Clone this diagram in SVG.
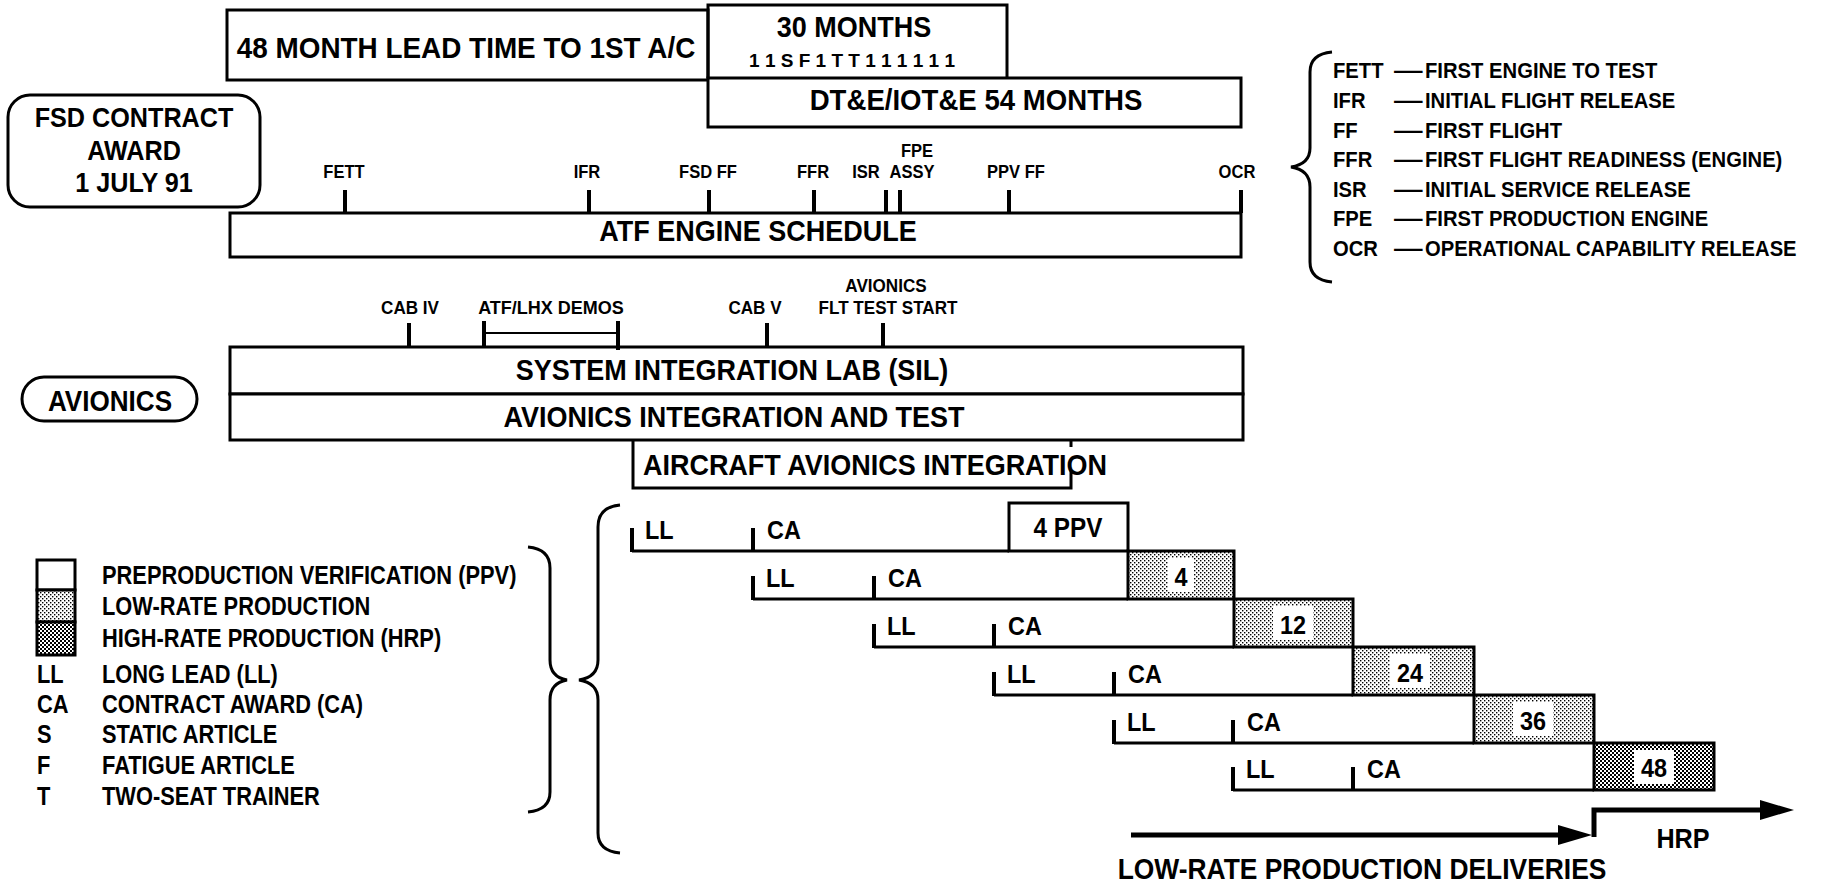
<svg xmlns="http://www.w3.org/2000/svg" width="1838" height="882" viewBox="0 0 1838 882">
<style>
.ln{fill:none;stroke:#000;stroke-width:3}
.bx{fill:#fff;stroke:#000;stroke-width:3}
.tk{fill:none;stroke:#000;stroke-width:4}
.t{font-family:"Liberation Sans",Arial,sans-serif;font-weight:bold;fill:#000}
.m{text-anchor:middle}
.L{font-size:30px}
.M{font-size:22px}
.G{font-size:26px}
.S{font-size:18px}
.R{font-size:26px}
</style>
<defs>
<pattern id="lt" width="4" height="4" patternUnits="userSpaceOnUse"><rect width="4" height="4" fill="#fff"/><rect width="1.4" height="1.4" fill="#000"/><rect x="2" y="2" width="1.4" height="1.4" fill="#000"/></pattern>
<pattern id="dk" width="4" height="4" patternUnits="userSpaceOnUse"><rect width="4" height="4" fill="#fff"/><rect width="2" height="2" fill="#000"/><rect x="2" y="2" width="2" height="2" fill="#000"/></pattern>
</defs>
<rect width="1838" height="882" fill="#fff"/>

<g id="lead-time">
<rect class="bx" x="227" y="10" width="481" height="70"/>
<text class="t L m" transform="translate(466 58) scale(.93 1)">48 MONTH LEAD TIME TO 1ST A/C</text>
</g>
<g id="thirty-months">
<path class="ln" d="M708,78 V5 H1007 V78"/>
<text class="t L m" transform="translate(854 37) scale(.9 1)">30 MONTHS</text>
<text class="t m" style="font-size:19px" transform="translate(852 67)">1 1 S F 1 T T 1 1 1 1 1 1</text>
</g>
<g id="dte">
<rect class="bx" x="708" y="78" width="533" height="49"/>
<text class="t L m" transform="translate(976 110) scale(.92 1)">DT&amp;E/IOT&amp;E 54 MONTHS</text>
</g>
<g id="fsd-award">
<rect class="bx" x="8" y="95" width="252" height="112" rx="22"/>
<text class="t m" style="font-size:28px" transform="translate(134 127) scale(.9 1)">FSD CONTRACT</text>
<text class="t m" style="font-size:28px" transform="translate(134 160) scale(.9 1)">AWARD</text>
<text class="t m" style="font-size:28px" transform="translate(134 192) scale(.9 1)">1 JULY 91</text>
</g>

<g id="engine-milestones">
<text class="t S m" transform="translate(344 178) scale(.92 1)">FETT</text>
<text class="t S m" transform="translate(587 178) scale(.92 1)">IFR</text>
<text class="t S m" transform="translate(708 178) scale(.92 1)">FSD FF</text>
<text class="t S m" transform="translate(813 178) scale(.92 1)">FFR</text>
<text class="t S m" transform="translate(866 178) scale(.92 1)">ISR</text>
<text class="t S m" transform="translate(917 157) scale(.92 1)">FPE</text>
<text class="t S m" transform="translate(912 178) scale(.92 1)">ASSY</text>
<text class="t S m" transform="translate(1016 178) scale(.92 1)">PPV FF</text>
<text class="t S m" transform="translate(1237 178) scale(.92 1)">OCR</text>
</g>
<g id="engine-schedule">
<rect class="bx" x="230" y="213" width="1011" height="44"/>
<text class="t L m" transform="translate(758 241) scale(.9 1)">ATF ENGINE SCHEDULE</text>
</g>

<g id="engine-legend">
<path class="ln" d="M1332,52 Q1310,54 1310,72 V148 Q1310,164 1291,167 Q1310,170 1310,187 V262 Q1310,280 1332,282"/>
<text class="t M" transform="translate(1333 78) scale(.92 1)">FETT</text>
<text class="t M" transform="translate(1333 108) scale(.92 1)">IFR</text>
<text class="t M" transform="translate(1333 138) scale(.92 1)">FF</text>
<text class="t M" transform="translate(1333 167) scale(.92 1)">FFR</text>
<text class="t M" transform="translate(1333 197) scale(.92 1)">ISR</text>
<text class="t M" transform="translate(1333 226) scale(.92 1)">FPE</text>
<text class="t M" transform="translate(1333 256) scale(.92 1)">OCR</text>
<text class="t M" transform="translate(1394 78) scale(1.3 1)">—</text>
<text class="t M" transform="translate(1394 108) scale(1.3 1)">—</text>
<text class="t M" transform="translate(1394 138) scale(1.3 1)">—</text>
<text class="t M" transform="translate(1394 167) scale(1.3 1)">—</text>
<text class="t M" transform="translate(1394 197) scale(1.3 1)">—</text>
<text class="t M" transform="translate(1394 226) scale(1.3 1)">—</text>
<text class="t M" transform="translate(1394 256) scale(1.3 1)">—</text>
<text class="t M" transform="translate(1425 78) scale(.92 1)">FIRST ENGINE TO TEST</text>
<text class="t M" transform="translate(1425 108) scale(.92 1)">INITIAL FLIGHT RELEASE</text>
<text class="t M" transform="translate(1425 138) scale(.92 1)">FIRST FLIGHT</text>
<text class="t M" transform="translate(1425 167) scale(.92 1)">FIRST FLIGHT READINESS (ENGINE)</text>
<text class="t M" transform="translate(1425 197) scale(.92 1)">INITIAL SERVICE RELEASE</text>
<text class="t M" transform="translate(1425 226) scale(.92 1)">FIRST PRODUCTION ENGINE</text>
<text class="t M" transform="translate(1425 256) scale(.92 1)">OPERATIONAL CAPABILITY RELEASE</text>
</g>

<g id="avionics-milestones">
<text class="t S m" transform="translate(410 314) scale(.95 1)">CAB IV</text>
<text class="t S m" transform="translate(551 314) scale(1 1)">ATF/LHX DEMOS</text>
<text class="t S m" transform="translate(755 314) scale(.95 1)">CAB V</text>
<text class="t S m" transform="translate(886 292) scale(.95 1)">AVIONICS</text>
<text class="t S m" transform="translate(888 314) scale(.95 1)">FLT TEST START</text>
</g>
<g id="avionics-label">
<rect class="bx" x="22" y="377" width="175" height="44" rx="22"/>
<text class="t m" style="font-size:29px" transform="translate(110 411) scale(.9 1)">AVIONICS</text>
</g>
<g id="sil">
<rect class="bx" x="230" y="347" width="1013" height="47"/>
<text class="t L m" transform="translate(732 380) scale(.9 1)">SYSTEM INTEGRATION LAB (SIL)</text>
</g>
<g id="avionics-int-test">
<rect class="bx" x="230" y="394" width="1013" height="46"/>
<text class="t L m" transform="translate(734 427) scale(.9 1)">AVIONICS INTEGRATION AND TEST</text>
</g>
<g id="aircraft-avionics">
<path class="ln" d="M633,440 V488 H1071 V470 M1071,441 V447"/>
<text class="t L m" transform="translate(875 475) scale(.9 1)">AIRCRAFT AVIONICS INTEGRATION</text>
</g>

<g id="production">
<rect class="bx" x="1009" y="503" width="119" height="48"/>
<text class="t m" style="font-size:27px" transform="translate(1068 537) scale(.9 1)">4 PPV</text>
<rect x="1128" y="551" width="106" height="48" fill="url(#lt)" stroke="#000" stroke-width="3"/>
<rect x="1234" y="599" width="119" height="48" fill="url(#lt)" stroke="#000" stroke-width="3"/>
<rect x="1353" y="647" width="121" height="48" fill="url(#lt)" stroke="#000" stroke-width="3"/>
<rect x="1474" y="695" width="120" height="48" fill="url(#lt)" stroke="#000" stroke-width="3"/>
<rect x="1594" y="743" width="120" height="47" fill="url(#dk)" stroke="#000" stroke-width="3"/>
<rect x="1168" y="558" width="26" height="34" fill="#fff"/>
<rect x="1273" y="606" width="40" height="34" fill="#fff"/>
<rect x="1390" y="654" width="40" height="34" fill="#fff"/>
<rect x="1513" y="702" width="40" height="34" fill="#fff"/>
<rect x="1634" y="750" width="40" height="34" fill="#fff"/>
<text class="t R m" transform="translate(1181 586) scale(.9 1)">4</text>
<text class="t R m" transform="translate(1293 634) scale(.9 1)">12</text>
<text class="t R m" transform="translate(1410 682) scale(.9 1)">24</text>
<text class="t R m" transform="translate(1533 730) scale(.9 1)">36</text>
<text class="t R m" transform="translate(1654 777) scale(.9 1)">48</text>
<text class="t R" transform="translate(645 539) scale(.9 1)">LL</text>
<text class="t R" transform="translate(767 539) scale(.9 1)">CA</text>
<text class="t R" transform="translate(766 587) scale(.9 1)">LL</text>
<text class="t R" transform="translate(888 587) scale(.9 1)">CA</text>
<text class="t R" transform="translate(887 635) scale(.9 1)">LL</text>
<text class="t R" transform="translate(1008 635) scale(.9 1)">CA</text>
<text class="t R" transform="translate(1007 683) scale(.9 1)">LL</text>
<text class="t R" transform="translate(1128 683) scale(.9 1)">CA</text>
<text class="t R" transform="translate(1127 731) scale(.9 1)">LL</text>
<text class="t R" transform="translate(1247 731) scale(.9 1)">CA</text>
<text class="t R" transform="translate(1246 778) scale(.9 1)">LL</text>
<text class="t R" transform="translate(1367 778) scale(.9 1)">CA</text>
</g>

<g id="legend">
<rect class="bx" x="37" y="560" width="38" height="30"/>
<rect x="37" y="590" width="38" height="32" fill="url(#lt)" stroke="#000" stroke-width="3"/>
<rect x="37" y="622" width="38" height="33" fill="url(#dk)" stroke="#000" stroke-width="3"/>
<text class="t G" transform="translate(102 584) scale(.84 1)">PREPRODUCTION VERIFICATION (PPV)</text>
<text class="t G" transform="translate(102 615) scale(.84 1)">LOW-RATE PRODUCTION</text>
<text class="t G" transform="translate(102 647) scale(.84 1)">HIGH-RATE PRODUCTION (HRP)</text>
<text class="t G" transform="translate(37 683) scale(.84 1)">LL</text>
<text class="t G" transform="translate(102 683) scale(.84 1)">LONG LEAD (LL)</text>
<text class="t G" transform="translate(37 713) scale(.84 1)">CA</text>
<text class="t G" transform="translate(102 713) scale(.84 1)">CONTRACT AWARD (CA)</text>
<text class="t G" transform="translate(37 743) scale(.84 1)">S</text>
<text class="t G" transform="translate(102 743) scale(.84 1)">STATIC ARTICLE</text>
<text class="t G" transform="translate(37 774) scale(.84 1)">F</text>
<text class="t G" transform="translate(102 774) scale(.84 1)">FATIGUE ARTICLE</text>
<text class="t G" transform="translate(37 805) scale(.84 1)">T</text>
<text class="t G" transform="translate(102 805) scale(.84 1)">TWO-SEAT TRAINER</text>
<path class="ln" d="M528,547 Q550,549 550,568 V660 Q550,677 567,680 Q550,683 550,700 V792 Q550,810 528,812"/>
<path class="ln" d="M620,505 Q598,507 598,527 V660 Q598,677 579,680 Q598,683 598,700 V833 Q598,851 620,853"/>
</g>

<g id="deliveries">
<text class="t L m" transform="translate(1362 879) scale(.88 1)">LOW-RATE PRODUCTION DELIVERIES</text>
<text class="t m" style="font-size:28px" transform="translate(1683 848) scale(.9 1)">HRP</text>
</g>

<g id="connectors">
<path class="tk" d="M345,190 V213 M589,190 V213 M709,190 V213 M814,190 V213 M886,190 V213 M900,190 V213 M1009,190 V213 M1241,190 V213"/>
<path class="tk" d="M409,323 V347 M484,321 V347 M618,321 V350 M767,323 V347 M883,323 V347"/>
<path class="ln" style="stroke-width:2" d="M484,333 H618"/>
<path class="ln" d="M632,551 H1009 M753,599 H1128 M874,647 H1234 M994,695 H1353 M1114,743 H1474 M1233,790 H1594"/>
<path class="tk" d="M632,528 V552 M753,528 V552 M753,576 V600 M874,576 V600 M874,624 V648 M994,624 V648 M994,672 V696 M1114,672 V696 M1114,720 V744 M1233,720 V744 M1233,767 V791 M1353,767 V791"/>
<path class="ln" style="stroke-width:5" d="M1131,835 H1562"/>
<polygon points="1592,835 1558,825 1558,845" fill="#000"/>
<path class="ln" style="stroke-width:5" d="M1594,837 V810 H1765"/>
<polygon points="1794,810 1760,800 1760,820" fill="#000"/>
</g>
</svg>
